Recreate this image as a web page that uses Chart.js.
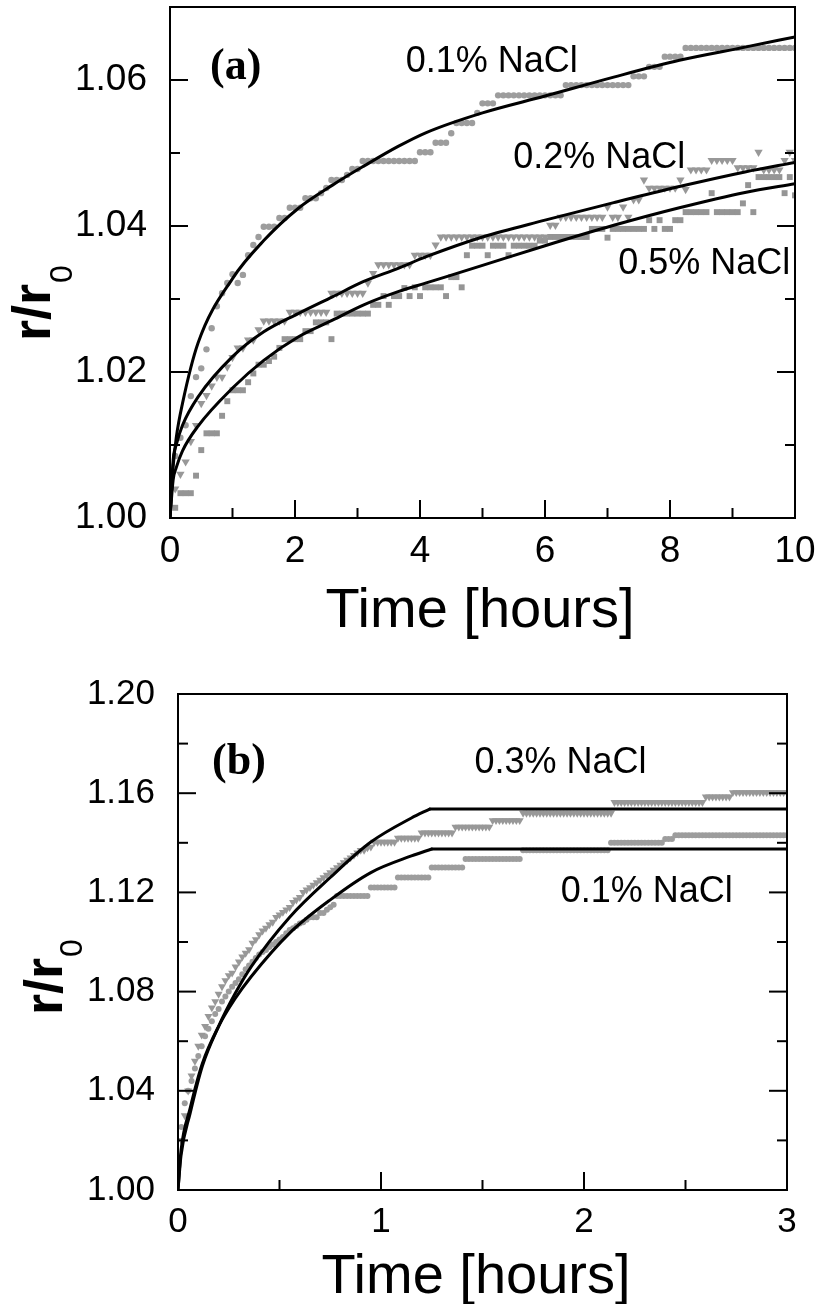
<!DOCTYPE html>
<html>
<head>
<meta charset="utf-8">
<title>r/r0 vs time</title>
<script src="https://cdn.jsdelivr.net/npm/chart.js@4.4.1/dist/chart.umd.min.js"></script>
<style>
  html, body { margin: 0; padding: 0; background: #fff; }
  body { width: 822px; height: 1304px; position: relative; overflow: hidden; }
  canvas { position: absolute; left: 0; }
  #chartA { top: 0; }
  #chartB { top: 650px; }
</style>
</head>
<body>
<canvas id="chartA" width="822" height="650"></canvas>
<canvas id="chartB" width="822" height="654"></canvas>
<script>
// ---------- panel (a): 0 - 10 h ----------
const aTimeTicks = [0, 2, 4, 6, 8, 10];
const aTimeMinor = [1, 3, 5, 7, 9];
const aRatioTicks = [1.00, 1.02, 1.04, 1.06];
const aRatioMinor = [1.01, 1.03, 1.05];

// measured r/r0, one reading every 5 min; level k holds for runs[k] readings
const aSampleStep = 1 / 12;
const a01Levels = [1.0085, 1.0110, 1.0127, 1.0167, 1.0193, 1.0205, 1.0231, 1.0260, 1.0290, 1.0308,
  1.0322, 1.0334, 1.0322, 1.0333, 1.0360, 1.0374, 1.0385, 1.0399, 1.0411, 1.0425, 1.0438, 1.0445,
  1.0452, 1.0463, 1.0470, 1.0478, 1.0489, 1.0501, 1.0514, 1.0527, 1.0541, 1.0555, 1.0568, 1.0579,
  1.0593, 1.0605, 1.0618, 1.0632, 1.0644];
const a01Runs = [1, 1, 1, 1, 1, 1, 1, 1, 1, 1, 1, 1, 1, 1, 1, 1, 1, 3, 2, 3, 3, 1, 1, 3, 1, 2, 11,
  3, 3, 1, 4, 1, 3, 13, 13, 3, 3, 4, 22];

const a02Levels = [1.0040, 1.0060, 1.0077, 1.0105, 1.0127, 1.0157, 1.0168, 1.0181, 1.0193, 1.0207,
  1.0220, 1.0233, 1.0244, 1.0258, 1.0270, 1.0282, 1.0308, 1.0322, 1.0335, 1.0347, 1.0360, 1.0374,
  1.0385, 1.0401, 1.0412, 1.0426, 1.0412, 1.0426, 1.0412, 1.0436, 1.0463, 1.0452, 1.0463, 1.0450,
  1.0477, 1.0490, 1.0480, 1.0501, 1.0477, 1.0490, 1.0501, 1.0490];
const a02Runs = [1, 1, 1, 1, 1, 1, 1, 1, 2, 1, 1, 2, 2, 1, 5, 8, 7, 1, 1, 7, 4, 1, 21, 2, 9, 1, 2,
  1, 1, 2, 1, 6, 1, 1, 4, 5, 4, 1, 4, 1, 1, 1];

const a05Levels = [1.0014, 1.0034, 1.0058, 1.0093, 1.0116, 1.0140, 1.0160, 1.0175, 1.0186, 1.0198,
  1.0210, 1.0215, 1.0221, 1.0233, 1.0245, 1.0256, 1.0268, 1.0245, 1.0280, 1.0292, 1.0304, 1.0292,
  1.0304, 1.0315, 1.0304, 1.0316, 1.0304, 1.0316, 1.0304, 1.0330, 1.0316, 1.0360, 1.0373, 1.0360,
  1.0373, 1.0360, 1.0373, 1.0380, 1.0385, 1.0396, 1.0384, 1.0396, 1.0408, 1.0396, 1.0408, 1.0396,
  1.0408, 1.0419, 1.0445, 1.0419, 1.0431, 1.0456, 1.0419, 1.0467, 1.0445, 1.0467, 1.0442];
const a05Runs = [1, 3, 1, 1, 3, 1, 1, 3, 1, 1, 2, 1, 1, 1, 4, 2, 3, 1, 7, 2, 1, 1, 2, 1, 1, 1, 1,
  4, 1, 2, 1, 1, 3, 1, 3, 1, 5, 2, 8, 3, 1, 7, 1, 1, 1, 2, 2, 5, 1, 5, 1, 1, 1, 5, 1, 1, 1];

// fitted curves
const aFitTime = [0, 0.05, 0.1, 0.2, 0.45, 1, 1.5, 2.05, 2.6, 3.1, 3.65, 4.1, 5, 6, 7.1, 8.15, 9.2, 10];
const a01Fit = [1.0, 1.0070, 1.0110, 1.0157, 1.0240, 1.0328, 1.0380, 1.0424, 1.0456, 1.0482, 1.0509,
  1.0528, 1.0555, 1.0578, 1.0604, 1.0627, 1.0645, 1.0659];
const a02Fit = [1.0, 1.0079, 1.0100, 1.0127, 1.0166, 1.0221, 1.0255, 1.0280, 1.0303, 1.0324, 1.0342,
  1.0358, 1.0385, 1.0408, 1.0432, 1.0454, 1.0474, 1.0487];
const a05Fit = [1.0, 1.0052, 1.0069, 1.0092, 1.0126, 1.0178, 1.0216, 1.0248, 1.0271, 1.0292, 1.0310,
  1.0322, 1.0346, 1.0373, 1.0401, 1.0425, 1.0446, 1.0458];

// ---------- panel (b): 0 - 3 h ----------
const bTimeTicks = [0, 1, 2, 3];
const bTimeMinor = [0.5, 1.5, 2.5];
const bRatioTicks = [1.00, 1.04, 1.08, 1.12, 1.16, 1.20];
const bRatioMinor = [1.02, 1.06, 1.10, 1.14, 1.18];

// one reading per minute: the rise reading by reading, then held levels
const bSampleStep = 1 / 60;
const b03Rise = [1.020, 1.030, 1.040, 1.046, 1.052, 1.058, 1.0625, 1.066, 1.070, 1.0735,
  1.076, 1.079, 1.082, 1.0845, 1.0865, 1.0875, 1.090, 1.092, 1.094, 1.0955,
  1.097, 1.0996, 1.101, 1.103, 1.1045, 1.1056, 1.107, 1.108, 1.110, 1.111,
  1.112, 1.113, 1.114, 1.116, 1.117, 1.118, 1.120, 1.121, 1.122, 1.123,
  1.124, 1.125, 1.126, 1.127, 1.128, 1.129, 1.130, 1.131, 1.132, 1.133,
  1.134, 1.135, 1.136, 1.137, 1.137, 1.138, 1.1383];
const b03Levels = [1.1403, 1.1419, 1.144, 1.1464, 1.149, 1.152, 1.1563, 1.1585, 1.1603];
const b03Runs = [7, 7, 10, 11, 9, 27, 27, 8, 17];

const b01Rise = [1.0254, 1.035, 1.040, 1.044, 1.049, 1.054, 1.058, 1.062, 1.065, 1.068,
  1.071, 1.073, 1.076, 1.078, 1.080, 1.082, 1.0835, 1.085, 1.087, 1.089,
  1.0905, 1.092, 1.0935, 1.095, 1.096, 1.0968, 1.098, 1.099, 1.100, 1.101,
  1.102, 1.1035, 1.1048, 1.1055, 1.1065, 1.1075, 1.108, 1.109, 1.110, 1.110,
  1.110, 1.1117, 1.1117, 1.113, 1.114, 1.115];
const b01Levels = [1.1185, 1.122, 1.126, 1.130, 1.1335, 1.137, 1.140, 1.1415, 1.143];
const b01Runs = [10, 8, 10, 10, 17, 26, 16, 3, 34];

// fitted curves: rise, then held flat from the last rise point
const b03FitTime = [0, 0.015, 0.06, 0.12, 0.2, 0.28, 0.36, 0.55, 0.75, 0.95, 1.15, 1.24, 3];
const b03Fit = [1.000, 1.014, 1.031, 1.050, 1.066, 1.079, 1.090, 1.110, 1.126, 1.1403, 1.150, 1.1536, 1.1536];
const b01FitTime = [0, 0.015, 0.06, 0.12, 0.2, 0.28, 0.36, 0.55, 0.75, 0.95, 1.15, 1.25, 3];
const b01Fit = [1.000, 1.016, 1.033, 1.051, 1.066, 1.077, 1.086, 1.1036, 1.117, 1.128, 1.1347, 1.1375, 1.1375];

// ---------- helpers ----------
const SANS = "'Liberation Sans', Arial, sans-serif";
const SERIF = "'Liberation Serif', 'Times New Roman', serif";
const MAJOR = 18, MINOR = 10;

Chart.defaults.font.family = SANS;
Chart.defaults.color = '#000';

function readings(levels, runs, step) {
  const pts = [];
  let i = 1;
  levels.forEach((v, k) => {
    for (let n = 0; n < runs[k]; n++, i++) pts.push({ x: i * step, y: v });
  });
  return pts;
}

function pairs(xs, ys) {
  return xs.map((x, i) => ({ x: x, y: ys[i] }));
}

function fitLine(points, mode) {
  return {
    data: points, showLine: true, fill: false,
    borderColor: '#000', borderWidth: 3, borderCapStyle: 'round',
    pointRadius: 0, cubicInterpolationMode: mode || 'monotone'
  };
}

function heldFit(xs, ys) {
  const pts = pairs(xs, ys);
  const last = pts.length - 1;
  return [fitLine(pts.slice(0, last)), fitLine(pts.slice(last - 1), 'default')];
}

function markers(points, style, radius, color, rotation) {
  return {
    data: points, pointStyle: style, pointRadius: radius, pointRotation: rotation || 0,
    pointBackgroundColor: color, pointBorderColor: color, pointBorderWidth: 0
  };
}

// fixed axis box; the label padding chart.js adds would move the plot edges
function axis(min, max, ticks, fmt, size, pad, box) {
  return {
    type: 'linear', min: min, max: max,
    grid: { display: false, drawTicks: false },
    border: { display: false },
    afterBuildTicks: s => { s.ticks = ticks.map(v => ({ value: v })); },
    afterFit: s => {
      if (box.height) s.height = box.height;
      if (box.width) s.width = box.width;
      s.paddingTop = s.paddingBottom = s.paddingLeft = s.paddingRight = 0;
    },
    ticks: { autoSkip: false, maxRotation: 0, padding: pad, color: '#000',
             font: { size: size, lineHeight: 1 }, callback: fmt }
  };
}

// box, inward ticks on bottom/left/right, annotations and axis titles
function framePlugin(id, cfg) {
  return {
    id: id,
    afterDatasetsDraw(chart) {
      const { ctx, chartArea: a, scales: { x, y } } = chart;
      ctx.save();
      ctx.strokeStyle = '#000';
      ctx.fillStyle = '#000';
      ctx.lineWidth = 2;
      const seg = (x1, y1, x2, y2) => { ctx.beginPath(); ctx.moveTo(x1, y1); ctx.lineTo(x2, y2); ctx.stroke(); };
      cfg.xMajor.forEach(v => { const p = x.getPixelForValue(v); seg(p, a.bottom, p, a.bottom - MAJOR); });
      cfg.xMinor.forEach(v => { const p = x.getPixelForValue(v); seg(p, a.bottom, p, a.bottom - MINOR); });
      cfg.yMajor.forEach(v => {
        const p = y.getPixelForValue(v);
        seg(a.left, p, a.left + MAJOR, p); seg(a.right, p, a.right - MAJOR, p);
      });
      cfg.yMinor.forEach(v => {
        const p = y.getPixelForValue(v);
        seg(a.left, p, a.left + MINOR, p); seg(a.right, p, a.right - MINOR, p);
      });
      ctx.strokeRect(a.left, a.top, a.right - a.left, a.bottom - a.top);

      ctx.textBaseline = 'alphabetic';
      ctx.textAlign = 'left';
      cfg.notes.forEach(n => {
        ctx.font = n.font;
        ctx.fillText(n.text, x.getPixelForValue(n.x), y.getPixelForValue(n.y));
      });

      ctx.font = '56px ' + SANS;
      ctx.textAlign = 'center';
      ctx.fillText('Time [hours]', cfg.timeTitle.x, cfg.timeTitle.y);

      ctx.translate(cfg.ratioTitle.x, cfg.ratioTitle.y);
      ctx.rotate(-Math.PI / 2);
      ctx.textAlign = 'left';
      ctx.font = 'bold 54px ' + SANS;
      ctx.fillText('r/r', 0, 0);
      const w = ctx.measureText('r/r').width;
      ctx.font = '32px ' + SANS;
      ctx.fillText('0', w + 1, cfg.ratioTitle.drop);
      ctx.restore();
    }
  };
}

const noteFont = '36px ' + SANS;
const letterFont = 'bold 44px ' + SERIF;

// ---------- panel (a) ----------
new Chart(document.getElementById('chartA'), {
  type: 'scatter',
  data: {
    datasets: [
      fitLine(pairs(aFitTime, a01Fit)),
      fitLine(pairs(aFitTime, a02Fit)),
      fitLine(pairs(aFitTime, a05Fit)),
      markers(readings(a01Levels, a01Runs, aSampleStep), 'circle', 3.2, '#9d9d9d'),
      markers(readings(a02Levels, a02Runs, aSampleStep), 'triangle', 4.8, '#989898', 180),
      markers(readings(a05Levels, a05Runs, aSampleStep), 'rect', 4.2, '#959595')
    ]
  },
  options: {
    responsive: false, animation: false, events: [], devicePixelRatio: 1,
    layout: { autoPadding: false, padding: { left: 0, right: 27, top: 7, bottom: 0 } },
    plugins: { legend: { display: false }, tooltip: { enabled: false } },
    scales: {
      x: axis(0, 10, aTimeTicks, v => String(v), 37, 15, { height: 132 }),
      y: axis(1.0, 1.07, aRatioTicks, v => v.toFixed(2), 37, 23, { width: 170 })
    }
  },
  plugins: [framePlugin('frameA', {
    xMajor: aTimeTicks, xMinor: aTimeMinor, yMajor: aRatioTicks, yMinor: aRatioMinor,
    notes: [
      { text: '(a)', x: 0.64, y: 1.0601, font: letterFont },
      { text: '0.1% NaCl', x: 3.77, y: 1.0611, font: noteFont },
      { text: '0.2% NaCl', x: 5.49, y: 1.0479, font: noteFont },
      { text: '0.5% NaCl', x: 7.17, y: 1.0334, font: noteFont }
    ],
    timeTitle: { x: 480, y: 627 },
    ratioTitle: { x: 50, y: 341, drop: 22 }
  })]
});

// ---------- panel (b) ----------
new Chart(document.getElementById('chartB'), {
  type: 'scatter',
  data: {
    datasets: [
      ...heldFit(b03FitTime, b03Fit),
      ...heldFit(b01FitTime, b01Fit),
      markers(readings(b03Rise.concat(b03Levels), b03Rise.map(() => 1).concat(b03Runs), bSampleStep),
              'triangle', 4.6, '#989898', 180),
      markers(readings(b01Rise.concat(b01Levels), b01Rise.map(() => 1).concat(b01Runs), bSampleStep),
              'circle', 3, '#9d9d9d')
    ]
  },
  options: {
    responsive: false, animation: false, events: [], devicePixelRatio: 1,
    layout: { autoPadding: false, padding: { left: 0, right: 35, top: 44, bottom: 0 } },
    plugins: { legend: { display: false }, tooltip: { enabled: false } },
    scales: {
      x: axis(0, 3, bTimeTicks, v => String(v), 35, 15, { height: 114 }),
      y: axis(1.0, 1.2, bRatioTicks, v => v.toFixed(2), 35, 23, { width: 178 })
    }
  },
  plugins: [framePlugin('frameB', {
    xMajor: bTimeTicks, xMinor: bTimeMinor, yMajor: bRatioTicks, yMinor: bRatioMinor,
    notes: [
      { text: '(b)', x: 0.168, y: 1.1677, font: letterFont },
      { text: '0.3% NaCl', x: 1.46, y: 1.1681, font: noteFont },
      { text: '0.1% NaCl', x: 1.885, y: 1.1161, font: noteFont }
    ],
    timeTitle: { x: 476, y: 643 },
    ratioTitle: { x: 62, y: 365, drop: 20 }
  })]
});
</script>
</body>
</html>
